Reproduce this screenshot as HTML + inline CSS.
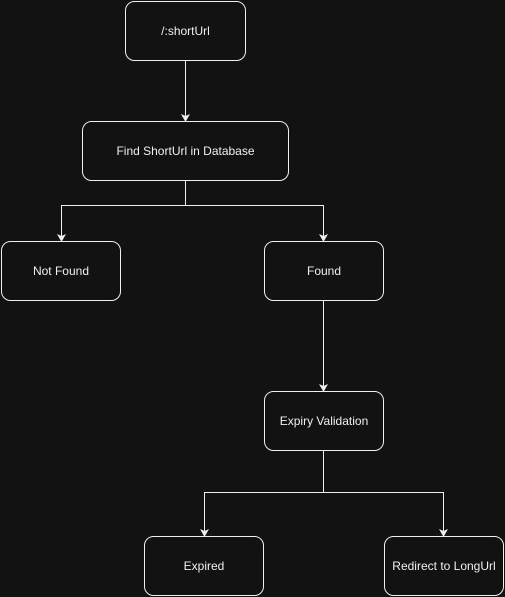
<!DOCTYPE html>
<html><head><style>
html,body{margin:0;padding:0;background:#121212;width:505px;height:597px;overflow:hidden}
svg{display:block}
text{font-family:"Liberation Sans",Arial,sans-serif;font-size:12px;fill:#f0f0f0;text-anchor:middle;dominant-baseline:central}
</style></head><body>
<svg width="505" height="597" viewBox="0 0 505 597" xmlns="http://www.w3.org/2000/svg">
<defs><marker id="a" markerWidth="8" markerHeight="8" refX="4" refY="7" orient="auto" markerUnits="userSpaceOnUse"><path d="M0,0 L4,7 L8,0 L4,2 Z" fill="#f0f0f0" transform="rotate(-90 4 4) translate(0,0)"/></marker></defs>
<g fill="#121212" stroke="#f0f0f0" stroke-width="1">
<rect x="125.5" y="1.5" width="120" height="59" rx="9"/>
<rect x="82.5" y="121.5" width="206" height="59" rx="9"/>
<rect x="1.5" y="241.5" width="119" height="59" rx="9"/>
<rect x="264.5" y="241.5" width="119" height="59" rx="9"/>
<rect x="264.5" y="391.5" width="119" height="59" rx="9"/>
<rect x="144.5" y="536.5" width="119" height="59" rx="9"/>
<rect x="384.5" y="536.5" width="119" height="59" rx="9"/>
</g>
<g stroke="#f0f0f0" stroke-width="1" fill="none">
<path d="M185.5 60.5 V116"/>
<path d="M185.5 180.5 V205.5 H61.5 V236"/>
<path d="M185.5 205.5 H323.5 V236"/>
<path d="M323.5 300.5 V386"/>
<path d="M323.5 450.5 V492.5 H204.5 V531"/>
<path d="M323.5 492.5 H443.5 V531"/>
</g>
<g fill="#f0f0f0">
<path d="M181 114 L185.5 122 L190 114 L185.5 116 Z"/>
<path d="M57 234 L61.5 242 L66 234 L61.5 236 Z"/>
<path d="M319 234 L323.5 242 L328 234 L323.5 236 Z"/>
<path d="M319 384 L323.5 392 L328 384 L323.5 386 Z"/>
<path d="M200 529 L204.5 537 L209 529 L204.5 531 Z"/>
<path d="M439 529 L443.5 537 L448 529 L443.5 531 Z"/>
</g>
<text x="185.5" y="31">/:shortUrl</text>
<text x="185.5" y="151">Find ShortUrl in Database</text>
<text x="61" y="271">Not Found</text>
<text x="324" y="271">Found</text>
<text x="324" y="421">Expiry Validation</text>
<text x="204" y="566">Expired</text>
<text x="444" y="566">Redirect to LongUrl</text>
</svg>
</body></html>
